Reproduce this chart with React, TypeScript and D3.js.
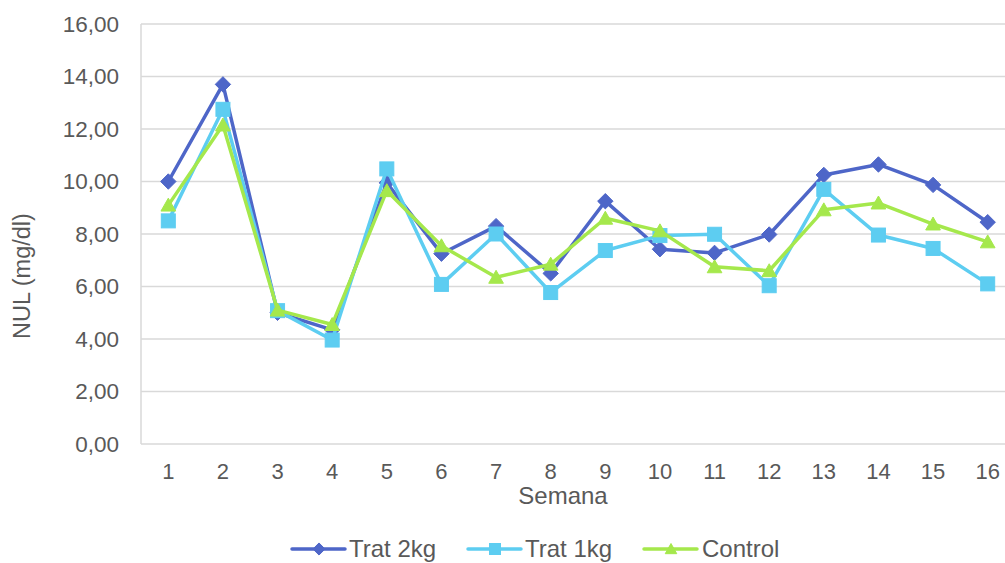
import React from "react";
import * as d3 from "d3";

const weeks = [1, 2, 3, 4, 5, 6, 7, 8, 9, 10, 11, 12, 13, 14, 15, 16];
const trat2kg = [10.0, 13.7, 5.0, 4.35, 9.95, 7.25, 8.3, 6.5, 9.25, 7.42, 7.28, 7.98, 10.25, 10.65, 9.87, 8.45];
const trat1kg = [8.5, 12.75, 5.08, 3.96, 10.48, 6.08, 8.0, 5.77, 7.37, 7.94, 7.99, 6.03, 9.7, 7.96, 7.45, 6.1];
const control = [9.1, 12.15, 5.1, 4.55, 9.65, 7.55, 6.35, 6.85, 8.6, 8.12, 6.75, 6.6, 8.92, 9.18, 8.38, 7.7];
const yTicks = [0, 2, 4, 6, 8, 10, 12, 14, 16];

const seriesNames = ["Trat 2kg", "Trat 1kg", "Control"];
const seriesColors = ["#4E66C8", "#5DCDF1", "#A5E84C"];
const seriesShapes = ["diamond", "square", "triangle"];
const seriesData = [trat2kg, trat1kg, control];

const W = 1005;
const H = 563;
const left = 141;
const right = 1015;
const top = 24;
const bottom = 444;
const textColor = "#595959";
const gridColor = "#D9D9D9";
const font = "'Liberation Sans', Arial, sans-serif";

function Marker({ shape, x, y, s, color }: { shape: string; x: number; y: number; s: number; color: string }) {
  if (shape === "diamond") {
    const r = s * 0.55;
    return <path d={`M${x},${y - r}L${x + r},${y}L${x},${y + r}L${x - r},${y}Z`} fill={color} stroke={color} strokeWidth={1} strokeLinejoin="round" />;
  }
  if (shape === "square") {
    const h = s / 2;
    return <rect x={x - h} y={y - h} width={s} height={s} fill={color} stroke={color} strokeWidth={1} />;
  }
  const h = s / 2;
  return <path d={`M${x},${y - h * 1.0}L${x + h * 1.05},${y + h * 0.85}L${x - h * 1.05},${y + h * 0.85}Z`} fill={color} stroke={color} strokeWidth={1} strokeLinejoin="round" />;
}

export default function App() {
  const x = d3.scalePoint<number>().domain(weeks).range([left, right]).padding(0.5);
  const y = d3.scaleLinear().domain([0, 16]).range([bottom, top]);
  const line = d3
    .line<number>()
    .x((_, i) => x(weeks[i]) as number)
    .y((d) => y(d));

  const fmt = (v: number) => v.toFixed(2).replace(".", ",");

  const legendItems = [
    { lx: 292, tx: 349 },
    { lx: 468, tx: 525 },
    { lx: 644, tx: 702 },
  ];

  return (
    <svg width={W} height={H} style={{ position: "absolute", left: 0, top: 0, background: "#fff" }}>
      <rect x={0} y={0} width={W} height={H} fill="#fff" />
      {yTicks.map((t) => (
        <line key={t} x1={left} x2={right} y1={y(t)} y2={y(t)} stroke={gridColor} strokeWidth={1.5} />
      ))}
      <line x1={left} x2={left} y1={top} y2={bottom} stroke={gridColor} strokeWidth={1.5} />
      {yTicks.map((t) => (
        <text key={t} x={119} y={y(t)} dy="0.35em" textAnchor="end" fontFamily={font} fontSize={22.5} fill={textColor}>
          {fmt(t)}
        </text>
      ))}
      {weeks.map((w) => (
        <text key={w} x={x(w)} y={471} dy="0.35em" textAnchor="middle" fontFamily={font} fontSize={22} fill={textColor}>
          {w}
        </text>
      ))}
      <text x={563} y={496} dy="0.35em" textAnchor="middle" fontFamily={font} fontSize={24} fill={textColor}>
        Semana
      </text>
      <text
        transform={`translate(22,276) rotate(-90)`}
        dy="0.35em"
        textAnchor="middle"
        fontFamily={font}
        fontSize={23.5}
        fill={textColor}
      >
        NUL (mg/dl)
      </text>
      {seriesData.map((data, si) => (
        <g key={si}>
          <path d={line(data) || ""} fill="none" stroke={seriesColors[si]} strokeWidth={3.5} strokeLinejoin="round" />
          {data.map((v, i) => (
            <Marker key={i} shape={seriesShapes[si]} x={x(weeks[i]) as number} y={y(v)} s={14} color={seriesColors[si]} />
          ))}
        </g>
      ))}
      {seriesNames.map((name, si) => {
        const it = legendItems[si];
        return (
          <g key={name}>
            <line x1={it.lx} x2={it.lx + 53} y1={549} y2={549} stroke={seriesColors[si]} strokeWidth={3.5} strokeLinecap="round" />
            <Marker shape={seriesShapes[si]} x={it.lx + 27} y={549} s={11} color={seriesColors[si]} />
            <text x={it.tx} y={549} dy="0.35em" fontFamily={font} fontSize={24} fill={textColor}>
              {name}
            </text>
          </g>
        );
      })}
    </svg>
  );
}
